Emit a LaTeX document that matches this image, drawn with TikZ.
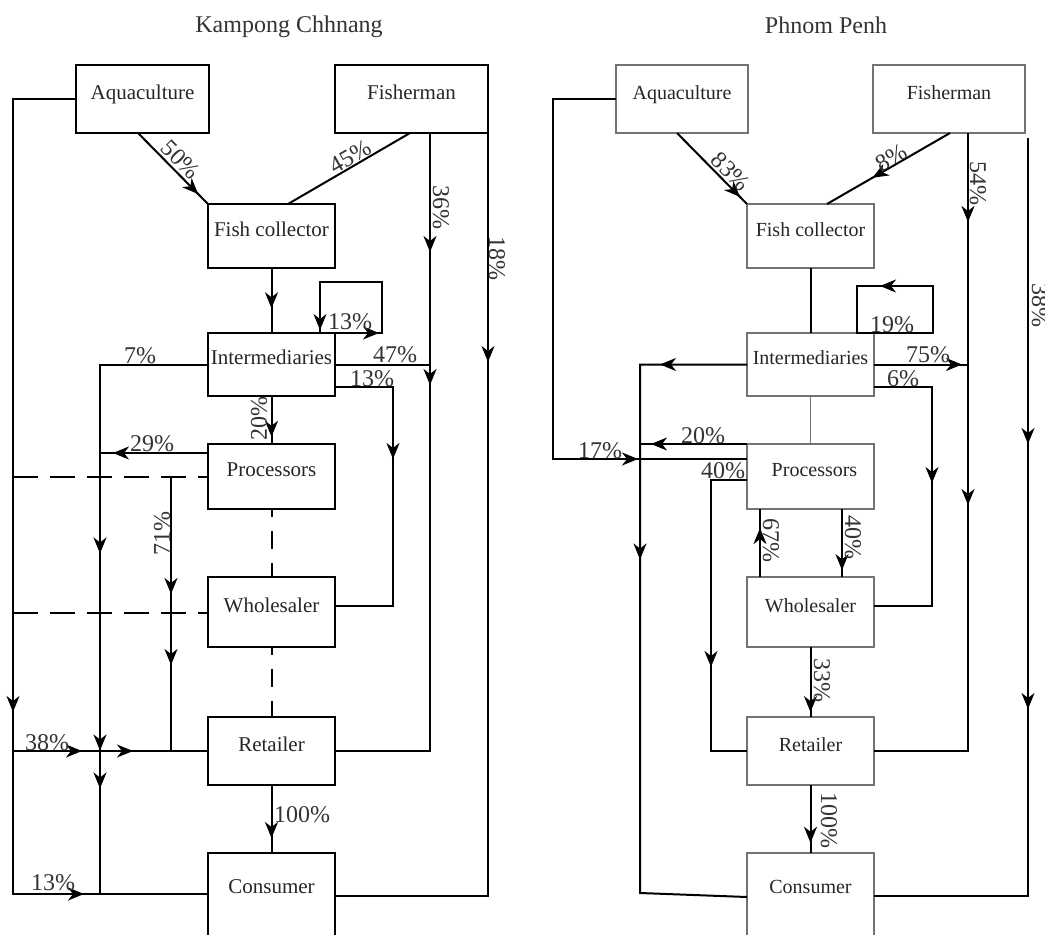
\documentclass[tikz,border=0pt]{standalone}
\usepackage{fontspec}
\setmainfont{Liberation Serif}
\usetikzlibrary{arrows.meta,decorations.markings}
\tikzset{
  ar/.style={postaction={decorate,decoration={markings,mark=at position #1 with {\arrow{>}}}}},
  lbox/.style={draw=black,line width=2pt,minimum width=127pt,outer sep=0pt,inner sep=0pt,
    text height=14pt,text depth=14pt,anchor=north west,font=\fontsize{21}{21}\selectfont,text=black!85},
  rbox/.style={lbox,draw=black!55,line width=1.2pt,font=\fontsize{20}{20}\selectfont},
  conn/.style={line width=2pt,line join=miter},
  gline/.style={line width=1.1pt,draw=black!55},
  lab/.style={font=\fontsize{24}{24}\selectfont,text=black!80,inner sep=0pt},
  dshh/.style={line width=1.6pt,dash pattern=on 25pt off 12pt},
  dshv/.style={line width=2pt,dash pattern=on 18pt off 14pt,dash phase=10pt},
}
\begin{document}
\begin{tikzpicture}[x=1pt,y=-1pt,>={Stealth[length=16pt,width=13pt,inset=5pt]}]
\useasboundingbox (0,0) rectangle (1045,935);
\clip (0,0) rectangle (1045,935);
\fill[white] (0,0) rectangle (1045,935);

% titles
\node[lab] (tKC) at (289,27) {Kampong Chhnang};
\node[lab] (tPP) at (826,25) {Phnom Penh};

% ---------- left boxes ----------
\node[lbox,minimum width=133pt,minimum height=68pt] (lAq) at (76,65) {Aquaculture};
\node[lbox,minimum width=153pt,minimum height=68pt] (lFish) at (335,65) {Fisherman};
\node[lbox,minimum height=64pt] (lFC) at (208,204) {Fish collector};
\node[lbox,minimum height=63pt] (lInt) at (208,333) {Intermediaries};
\node[lbox,minimum height=65pt] (lPro) at (208,444) {Processors};
\node[lbox,minimum height=70pt] (lWh) at (208,577) {Wholesaler};
\node[lbox,minimum height=68pt] (lRet) at (208,717) {Retailer};
\node[lbox,minimum height=100pt,text depth=34pt] (lCon) at (208,853) {Consumer};

% ---------- right boxes ----------
\node[rbox,minimum width=132pt,minimum height=68pt] (rAq) at (616,65) {Aquaculture};
\node[rbox,minimum width=152pt,minimum height=68pt] (rFish) at (873,65) {Fisherman};
\node[rbox,minimum height=64pt] (rFC) at (747,204) {Fish collector};
\node[rbox,minimum height=63pt] (rInt) at (747,333) {Intermediaries};
\node[rbox,minimum height=65pt] (rPro) at (747,444) {\hspace*{8pt}Processors};
\node[rbox,minimum height=70pt] (rWh) at (747,577) {Wholesaler};
\node[rbox,minimum height=68pt] (rRet) at (747,717) {Retailer};
\node[rbox,minimum height=100pt,text depth=34pt] (rCon) at (747,853) {Consumer};

% ---------- left connectors ----------
\coordinate (lA13) at (13,99);
\coordinate (lB13) at (13,894);
\coordinate (l38) at (13,751);
\coordinate (lP13) at (13,477);
\coordinate (lW13) at (13,613);
\coordinate (l71) at (171,477);
\coordinate (l71b) at (171,751);
\coordinate (lX100) at (100,894);
\coordinate (l18b) at (488,896);

\draw[conn,ar=0.86] (lAq.south -| 138,0) -- (lFC.north west);
\draw[conn] (lFish.south -| 410,0) -- (lFC.north -| 288,0);
\draw[conn,ar=119pt,ar=252pt] (lFish.south -| 430,0) -- (lRet.east -| 430,0) -- (lRet.east);
\draw[conn,ar=229pt] (lFish.south -| 488,0) -- (l18b) -- (lCon.east |- l18b);
\draw[conn,ar=0.62] (lFC.south) -- (lInt.north);
\draw[conn,ar=44pt,ar=208pt] (lInt.north east) -- (lInt.north -| 382,0) -- (382,282) -- (320,282) -- (lInt.north -| 320,0);
\draw[conn,ar=297pt,ar=494pt,ar=532pt] (lInt.west) -- (lInt.west -| 100,0) -- (lX100);
\draw[conn] (lInt.east) -- (lInt.east -| 430,0);
\draw[conn,ar=130pt] (lInt.east |- 0,387) -- (393,387) -- (393,606) -- (lWh.east |- 0,606);
\draw[conn,ar=0.85] (lInt.south) -- (lPro.north);
\draw[conn,ar=95pt] (lPro.west |- 0,453) -- (100,453);
\draw[dshh] (lP13) -- (lPro.west |- lP13);
\draw[conn,ar=117pt,ar=188pt] (l71) -- (l71b);
\draw[dshv] (lPro.south) -- (lWh.north);
\draw[dshh] (lW13) -- (lWh.west |- lW13);
\draw[dshv] (lWh.south) -- (lRet.north);
\draw[conn,ar=676pt,ar=929pt] (lAq.west) -- (lA13) -- (lB13) -- (lCon.west |- lB13);
\draw[conn,ar=69pt,ar=120pt] (l38) -- (lRet.west);
\draw[conn,ar=0.78] (lRet.south) -- (lCon.north);

% left labels
\node[lab,rotate=-45] (lL50) at (181,160) {50\%};
\node[lab,rotate=30] (lL45) at (350,157) {45\%};
\node[lab,rotate=-90] (lL36) at (441,207) {36\%};
\node[lab,rotate=-90] (lL18) at (497,258) {18\%};
\node[lab] (lL13a) at (350,322) {13\%};
\node[lab] (lL7) at (140,356) {7\%};
\node[lab] (lL47) at (395,355) {47\%};
\node[lab] (lL13b) at (372,379) {13\%};
\node[lab,rotate=90] (lL20) at (259,418) {20\%};
\node[lab] (lL29) at (152,444) {29\%};
\node[lab,rotate=90] (lL71) at (162,533) {71\%};
\node[lab] (lL38) at (47,743) {38\%};
\node[lab] (lL13c) at (53,883) {13\%};
\node[lab] (lL100) at (302,815) {100\%};

% ---------- right connectors ----------
\coordinate (r38top) at (1028,138);
\coordinate (r38bot) at (1028,896);
\coordinate (rA553) at (553,99);
\coordinate (rB553) at (553,459);
\coordinate (r640b) at (640,893);

\draw[conn,ar=0.9] (rAq.south -| 677,0) -- (rFC.north west);
\draw[conn,ar=0.63] (rFish.south -| 950,0) -- (rFC.north -| 827,0);
\draw[conn,ar=89pt,ar=372pt] (rFish.south -| 968,0) -- (rRet.east -| 968,0) -- (rRet.east);
\draw[conn,ar=306pt,ar=571pt] (r38top) -- (r38bot) -- (rCon.east |- r38bot);
\draw[conn] (rFC.south) -- (rInt.north);
\draw[conn,ar=176pt] (rInt.north -| 857,0) -- (rInt.north -| 933,0) -- (933,286) -- (857,286) -- cycle;
\draw[conn,ar=87pt,ar=302pt] (rInt.west) -- (rInt.west -| 640,0) -- (r640b) -- (rCon.west |- 0,897);
\draw[conn,ar=88pt] (rInt.east) -- (rInt.east -| 968,0);
\draw[conn,ar=154pt] (rInt.east |- 0,387) -- (932,387) -- (932,606) -- (rWh.east |- 0,606);
\draw[gline] (rInt.south) -- (rPro.north);
\draw[conn,ar=96pt] (rPro.north west) -- (rPro.north west -| 640,0);
\draw[conn,ar=508pt] (rAq.west) -- (rA553) -- (rB553) -- (rPro.west |- rB553);
\draw[conn,ar=223pt] (rPro.west |- 0,480) -- (711,480) -- (711,751) -- (rRet.west);
\draw[conn,ar=0.72] (rWh.north -| 760,0) -- (rPro.south -| 760,0);
\draw[conn,ar=0.9] (rPro.south -| 842,0) -- (rWh.north -| 842,0);
\draw[conn,ar=0.93] (rWh.south) -- (rRet.north);
\draw[conn,ar=0.85] (rRet.south) -- (rCon.north);

% right labels
\node[lab,rotate=-45] (rL83) at (731,172) {83\%};
\node[lab,rotate=30] (rL8) at (891,158) {8\%};
\node[lab,rotate=-90] (rL54) at (978,183) {54\%};
\node[lab,rotate=-90] (rL38) at (1040,305) {38\%};
\node[lab] (rL19) at (892,325) {19\%};
\node[lab] (rL75) at (928,355) {75\%};
\node[lab] (rL6) at (903,379) {6\%};
\node[lab] (rL20) at (703,436) {20\%};
\node[lab] (rL17) at (600,451) {17\%};
\node[lab] (rL40a) at (723,471) {40\%};
\node[lab,rotate=-90] (rL67) at (771,540) {67\%};
\node[lab,rotate=-90] (rL40b) at (853,537) {40\%};
\node[lab,rotate=-90] (rL33) at (822,680) {33\%};
\node[lab,rotate=-90] (rL100) at (829,820) {100\%};
\end{tikzpicture}
\end{document}
